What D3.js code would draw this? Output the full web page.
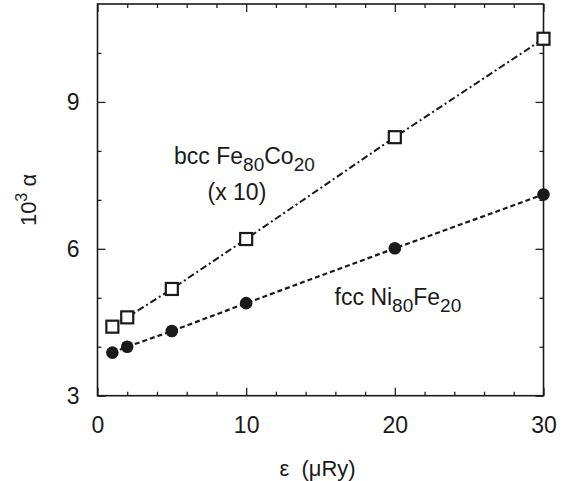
<!DOCTYPE html>
<html>
<head>
<meta charset="utf-8">
<script src="https://cdn.jsdelivr.net/npm/d3@7"></script>
<style>
  body { margin: 0; background: #fff; }
  svg { font-family: "Liberation Sans", Arial, sans-serif; }
  .axis path { display: none; }
  .axis line { stroke: #222; stroke-width: 1.3; }
  .axis text { fill: #1a1a1a; font-size: 23px; }
</style>
</head>
<body>
<div id="chart"></div>
<script>
// epsilon values (µRy)
const eps = [1, 2, 5, 10, 20, 30];
// 10^3 alpha, bcc Fe80Co20 (x 10)
const bccAlpha = [4.41, 4.60, 5.18, 6.20, 8.28, 10.29];
// 10^3 alpha, fcc Ni80Fe20
const fccAlpha = [3.88, 4.00, 4.32, 4.89, 6.01, 7.11];

const xMajor = [0, 10, 20, 30];
const xMinor = [2, 4, 6, 8, 12, 14, 16, 18, 22, 24, 26, 28];
const yMajor = [3, 6, 9];
const yMinor = [4, 5, 7, 8, 10];

const width = 562,
      height = 481,
      margin = { top: 4, right: 18.5, bottom: 85.3, left: 97.5 };

const svg = d3.select('#chart')
  .append('svg')
  .attr('width', width)
  .attr('height', height);

const x = d3.scaleLinear()
  .domain([0, 30])
  .range([margin.left, width - margin.right]);

const y = d3.scaleLinear()
  .domain([3, 11])
  .range([height - margin.bottom, margin.top]);

const ink = '#1a1a1a';

// ticks, inward on all four sides
const addAxis = (axis, tx, ty) => {
  svg.append('g')
     .attr('class', 'axis')
     .attr('transform', `translate(${tx},${ty})`)
     .call(axis);
};

addAxis(d3.axisBottom(x).tickValues(xMajor).tickSize(-8).tickPadding(21).tickFormat(d3.format('d')), 0, y(3));
addAxis(d3.axisBottom(x).tickValues(xMinor).tickSize(-4).tickFormat(''), 0, y(3));
addAxis(d3.axisTop(x).tickValues(xMajor).tickSize(-8).tickFormat(''), 0, y(11));
addAxis(d3.axisTop(x).tickValues(xMinor).tickSize(-4).tickFormat(''), 0, y(11));

addAxis(d3.axisLeft(y).tickValues(yMajor).tickSize(-8).tickPadding(18).tickFormat(d3.format('d')), x(0), 0);
addAxis(d3.axisLeft(y).tickValues(yMinor).tickSize(-4).tickFormat(''), x(0), 0);
addAxis(d3.axisRight(y).tickValues(yMajor).tickSize(-8).tickFormat(''), x(30), 0);
addAxis(d3.axisRight(y).tickValues(yMinor).tickSize(-4).tickFormat(''), x(30), 0);

// frame
svg.append('rect')
   .attr('x', x(0))
   .attr('y', y(11))
   .attr('width', x(30) - x(0))
   .attr('height', y(3) - y(11))
   .attr('fill', 'none')
   .attr('stroke', ink)
   .attr('stroke-width', 1.6);

const bcc = eps.map((e, i) => ({ e: e, a: bccAlpha[i] }));
const fcc = eps.map((e, i) => ({ e: e, a: fccAlpha[i] }));

const line = d3.line()
  .x(d => x(d.e))
  .y(d => y(d.a));

svg.append('path')
   .datum(bcc)
   .attr('d', line)
   .attr('fill', 'none')
   .attr('stroke', ink)
   .attr('stroke-width', 2)
   .attr('stroke-dasharray', '7,3,2,3');

svg.append('path')
   .datum(fcc)
   .attr('d', line)
   .attr('fill', 'none')
   .attr('stroke', ink)
   .attr('stroke-width', 2.2)
   .attr('stroke-dasharray', '5,3');

// open squares
svg.selectAll('rect.sq')
   .data(bcc)
   .enter()
   .append('rect')
   .attr('class', 'sq')
   .attr('x', d => x(d.e) - 6)
   .attr('y', d => y(d.a) - 6)
   .attr('width', 12)
   .attr('height', 12)
   .attr('fill', '#fff')
   .attr('stroke', ink)
   .attr('stroke-width', 2.2);

// filled circles
svg.selectAll('circle.dot')
   .data(fcc)
   .enter()
   .append('circle')
   .attr('class', 'dot')
   .attr('cx', d => x(d.e))
   .attr('cy', d => y(d.a))
   .attr('r', 6.3)
   .attr('fill', ink);

// series labels
const label = (lx, ly, parts) => {
  const t = svg.append('text')
    .attr('x', x(lx))
    .attr('y', y(ly))
    .attr('fill', ink)
    .style('font-size', '23px');
  parts.forEach(p => {
    t.append('tspan')
     .attr('dy', p[1])
     .style('font-size', p[2] || '23px')
     .text(p[0]);
  });
};

label(5.15, 7.73, [['bcc Fe', 0], ['80', 7, '19px'], ['Co', -7], ['20', 7, '19px']]);
label(7.4, 7.0, [['(x 10)', 0]]);
label(15.95, 4.85, [['fcc Ni', 0], ['80', 7, '19px'], ['Fe', -7], ['20', 7, '19px']]);

// axis titles
svg.append('text')
   .attr('x', x(14.8))
   .attr('y', 476)
   .attr('text-anchor', 'middle')
   .attr('fill', ink)
   .style('font-size', '22px')
   .style('white-space', 'pre')
   .text('ε  (μRy)');

const yt = svg.append('text')
   .attr('transform', 'translate(36,200) rotate(-90)')
   .attr('text-anchor', 'middle')
   .attr('fill', ink)
   .style('font-size', '22px');
yt.append('tspan').text('10');
yt.append('tspan').attr('dy', -9).style('font-size', '16px').text('3');
yt.append('tspan').attr('dy', 9).text(' α');
</script>
</body>
</html>
